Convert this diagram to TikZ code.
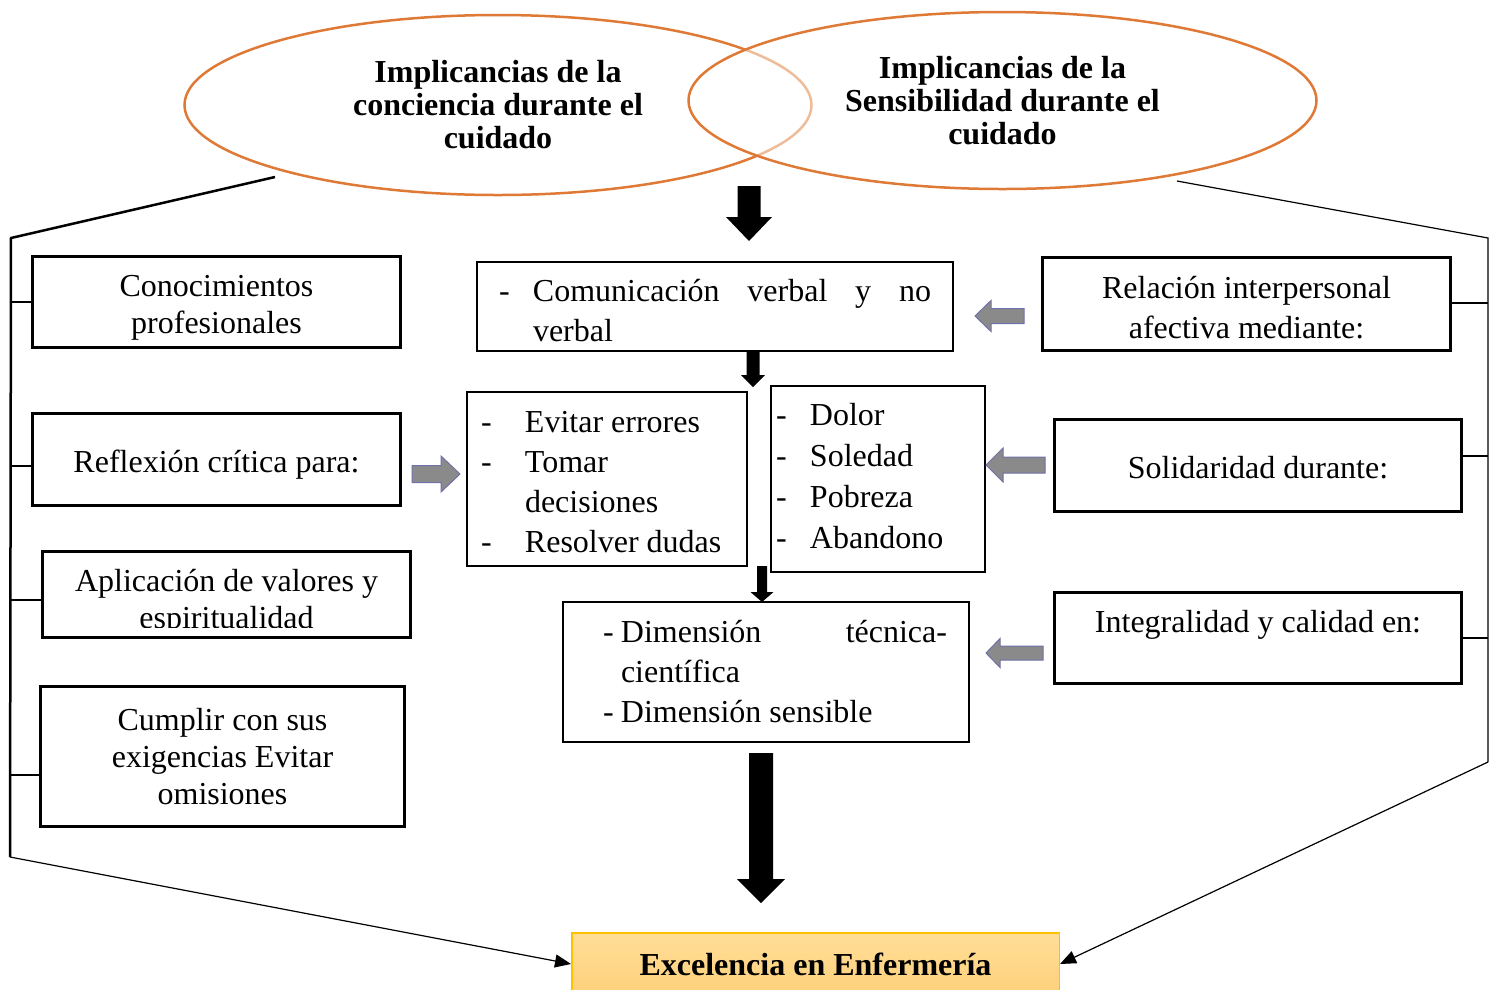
\documentclass[tikz,border=0pt]{standalone}
\usepackage{fontspec}
\setmainfont{Liberation Serif}
\usetikzlibrary{shapes.geometric,arrows.meta}

\definecolor{naranja}{RGB}{223,122,54}
\definecolor{grisflecha}{RGB}{138,138,138}
\definecolor{bordeflecha}{RGB}{112,112,170}
\definecolor{amarilloA}{RGB}{255,222,152}
\definecolor{amarilloB}{RGB}{254,208,122}
\definecolor{bordeamarillo}{RGB}{255,192,0}

\tikzset{
  elipse/.style={ellipse, draw=naranja, line width=2.5pt, inner sep=0pt,
    align=center, font=\bfseries\fontsize{32}{33}\selectfont},
  % alto de la primera linea y profundidad de la ultima
  ajuste/.style 2 args={execute at begin node={\rule{0pt}{#1}},
    execute at end node={\rule[-#2]{0pt}{#2}}},
  cajagruesa/.style={draw, line width=3.5pt, inner sep=0pt, align=flush center,
    font=\fontsize{32}{37}\selectfont},
  cajafina/.style={draw, line width=2pt, inner ysep=0pt, align=flush left,
    font=\fontsize{32}{40}\selectfont},
  texto/.style={inner sep=0pt, align=center, font=\fontsize{32}{37}\selectfont},
  flechagris/.style={fill=grisflecha, draw=bordeflecha, line width=1pt},
  conector/.style={line width=1.2pt},
  punta/.style={-{Triangle[length=16pt,width=13pt]}},
}

% flecha negra hacia abajo: punta, cuello, arriba, x, medio ancho cuerpo, medio ancho cabeza
\newcommand{\flechav}[6]{%
  \fill (#4,#1) -- (#4-#6,#2) -- (#4-#5,#2) -- (#4-#5,#3) -- (#4+#5,#3)
    -- (#4+#5,#2) -- (#4+#6,#2) -- cycle;}
% flecha gris horizontal: punta, cuello, cola, y, medio ancho cuerpo, medio ancho cabeza
\newcommand{\flechah}[6]{%
  \draw[flechagris] (#1,#4) -- (#2,#4-#6) -- (#2,#4-#5) -- (#3,#4-#5)
    -- (#3,#4+#5) -- (#2,#4+#5) -- (#2,#4+#6) -- cycle;}

\begin{document}
\begin{tikzpicture}[x=1pt,y=-1pt]
\useasboundingbox (0,0) rectangle (1496,989);

% elipses superiores
\node[elipse, minimum width=627pt, minimum height=180pt] (conciencia) at (498,105)
  {Implicancias de la\\conciencia durante el\\cuidado};
\node[elipse, fill=white, fill opacity=0.5, text opacity=1, draw opacity=1,
  minimum width=628pt, minimum height=177pt] (sensibilidad) at (1002.5,100.5)
  {Implicancias de la\\Sensibilidad durante el\\cuidado};

% cajas de la izquierda
\node[cajagruesa, ajuste={33pt}{7pt}, text width=368pt, minimum height=91pt] (b1) at (216.5,302)
  {Conocimientos\\profesionales};
\node[cajagruesa, ajuste={32pt}{7pt}, text width=368pt, minimum height=92pt] (b2) at (216.5,459.5)
  {Reflexión crítica para:};
\node[cajagruesa, minimum width=368pt, minimum height=86pt] (b3) at (226.5,594.5) {};
\begin{scope}
  \clip (44,553) rectangle (409,627);
  \node[texto] (b3t) at (226.5,602) {Aplicación de valores y\\espiritualidad};
\end{scope}
\node[cajagruesa, minimum width=364pt, minimum height=140pt] (b4) at (222.5,756.5)
  {Cumplir con sus\\exigencias Evitar\\omisiones};

% cajas de la derecha
\node[cajagruesa, ajuste={30pt}{0pt}, font=\fontsize{32}{40}\selectfont, text width=408pt,
  minimum height=93pt] (r1) at (1246.5,304)
  {Relación interpersonal\\afectiva mediante:};
\node[cajagruesa, ajuste={26pt}{0pt}, text width=407pt, minimum height=92pt] (r2) at (1258,465.5)
  {Solidaridad durante:};
\node[cajagruesa, minimum width=407pt, minimum height=91pt] (r3) at (1258,638) {};
\node[texto] (r3t) at (1258,625) {Integralidad y calidad en:};

% cajas centrales
\node[cajafina, ajuste={30pt}{0pt}, inner xsep=22pt, text width=432pt, minimum height=89pt] (c1) at (715,306.5)
  {\hbox to 432pt{\makebox[34pt][l]{-}Comunicación\hfill verbal\hfill y\hfill no}\\
   \hspace*{34pt}verbal};
\node[cajafina, ajuste={27pt}{0pt}, inner xsep=14pt, text width=252pt, minimum height=174pt] (c2) at (607,479)
  {\makebox[44pt][l]{-}Evitar errores\\
   \makebox[44pt][l]{-}Tomar\\
   \hspace*{44pt}decisiones\\
   \makebox[44pt][l]{-}Resolver dudas};
\node[cajafina, ajuste={22pt}{7pt}, font=\fontsize{32}{41}\selectfont, inner xsep=5pt, text width=204pt,
  minimum height=186pt] (c3) at (878,479)
  {\makebox[34pt][l]{-}Dolor\\
   \makebox[34pt][l]{-}Soledad\\
   \makebox[34pt][l]{-}Pobreza\\
   \makebox[34pt][l]{-}Abandono};
\node[cajafina, inner xsep=22pt, text width=362pt, minimum height=140pt] (c4) at (766,672)
  {\hspace*{18pt}\hbox to 344pt{\makebox[18pt][l]{-}Dimensión\hfill técnica-}\\
   \hspace*{36pt}científica\\
   \hspace*{18pt}\makebox[18pt][l]{-}Dimensión sensible};

% caja final
\begin{scope}
  \clip (0,0) rectangle (1496,989);
  \node[draw=bordeamarillo, line width=1.5pt, top color=amarilloA, bottom color=amarilloB,
    minimum width=487.5pt, minimum height=62.5pt, inner sep=0pt,
    font=\bfseries\fontsize{32}{37}\selectfont] (fin) at (815.5,964)
    {Excelencia en Enfermería};
\end{scope}

% flechas negras
\flechav{241}{217}{186}{749}{11.5}{23}
\flechav{387}{375}{350}{753}{6.5}{12}
\flechav{602}{592}{566}{762}{5}{11.5}
\flechav{903}{879}{753}{761}{12}{24}

% flechas grises
\flechah{975}{991}{1024}{316}{7.5}{15.5}
\flechah{460}{441}{412}{474}{8.5}{18}
\flechah{986}{1003}{1045}{465}{8}{17}
\flechah{986}{1000}{1043}{653}{7}{14.5}

% llave izquierda
\coordinate (ci1) at (275,177);
\coordinate (ci2) at (11,238);
\coordinate (ci3) at (10,857);
\draw[line width=2.5pt] (ci1) -- (ci2) -- (ci3);
\draw[conector, punta] (ci3) -- (fin.west);
\draw[conector] (11,302) -- (11,302 -| b1.west);
\draw[conector] (11,466) -- (11,466 -| b2.west);
\draw[conector] (11,600) -- (11,600 -| b3.west);
\draw[conector] (11,775) -- (11,775 -| b4.west);

% llave derecha
\coordinate (cd1) at (1177,181);
\coordinate (cd2) at (1488,238);
\coordinate (cd3) at (1488,762);
\draw[conector] (cd1) -- (cd2) -- (cd3);
\draw[conector, punta] (cd3) -- (fin.east);
\draw[conector] (1488,303) -- (1488,303 -| r1.east);
\draw[conector] (1488,456) -- (1488,456 -| r2.east);
\draw[conector] (1488,638) -- (1488,638 -| r3.east);
\end{tikzpicture}
\end{document}
